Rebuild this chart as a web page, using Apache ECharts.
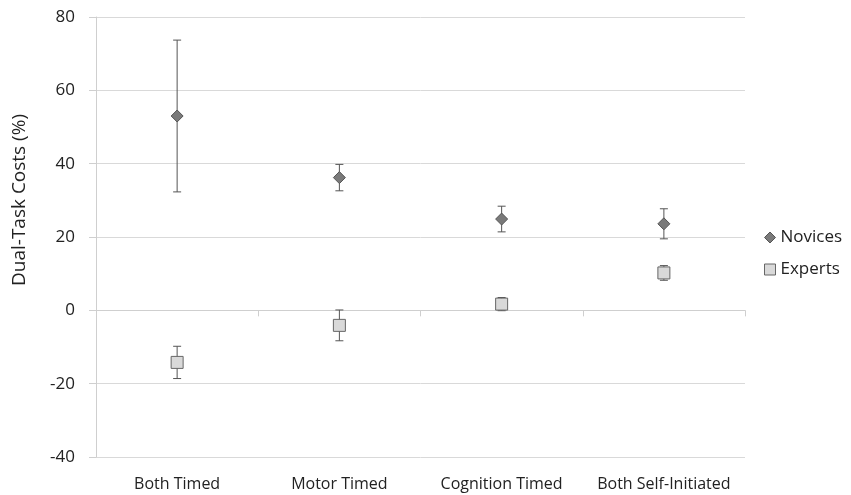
<!DOCTYPE html>
<html>
<head>
<meta charset="utf-8">
<script src="https://cdn.jsdelivr.net/npm/echarts@6/dist/echarts.min.js"></script>
<style>html,body{margin:0;padding:0;background:#fff;}#c{width:851px;height:495px;}</style>
</head>
<body>
<div id="c"></div>
<script>
var categories = ['Both Timed', 'Motor Timed', 'Cognition Timed', 'Both Self-Initiated'];
var novicesMean = [53.0, 36.2, 24.9, 23.6];
var novicesErr = [20.7, 3.6, 3.5, 4.1];
var expertsMean = [-14.2, -4.1, 1.7, 10.2];
var expertsErr = [4.4, 4.2, 1.8, 2.0];
var yTicks = [-40, -20, 0, 20, 40, 60, 80];

var FONT = '"Open Sans", sans-serif';
var chart = echarts.init(document.getElementById('c'));

function errData(mean, err) {
  return mean.map(function (m, i) { return [i, m - err[i], m + err[i]]; });
}
function errRender(params, api) {
  var x = api.value(0);
  var lo = api.coord([x, api.value(1)]);
  var hi = api.coord([x, api.value(2)]);
  var hw = 4;
  var st = { stroke: '#555', lineWidth: 1 };
  return {
    type: 'group',
    children: [
      { type: 'line', shape: { x1: lo[0], y1: lo[1], x2: hi[0], y2: hi[1] }, style: st },
      { type: 'line', shape: { x1: lo[0] - hw, y1: lo[1], x2: lo[0] + hw, y2: lo[1] }, style: st },
      { type: 'line', shape: { x1: hi[0] - hw, y1: hi[1], x2: hi[0] + hw, y2: hi[1] }, style: st }
    ]
  };
}

chart.setOption({
  animation: false,
  textStyle: { fontFamily: FONT },
  grid: { left: 96, right: 106, top: 17, bottom: 38 },
  legend: {
    orient: 'vertical',
    left: 764,
    top: 229,
    itemGap: 15,
    itemWidth: 11,
    itemHeight: 11,
    padding: 0,
    textStyle: { fontFamily: FONT, fontSize: 17, color: '#222' },
    data: [
      { name: 'Novices', icon: 'diamond', itemStyle: { color: '#7a7a7a', borderColor: '#555', borderWidth: 1 } },
      { name: 'Experts', icon: 'rect', itemStyle: { color: '#d9d9d9', borderColor: '#666', borderWidth: 1 } }
    ]
  },
  graphic: [{
    type: 'text',
    x: 20,
    y: 200,
    rotation: Math.PI / 2,
    style: {
      text: 'Dual-Task Costs (%)',
      font: '19px "Open Sans", sans-serif',
      fill: '#222',
      textAlign: 'center',
      textVerticalAlign: 'middle'
    }
  }],
  xAxis: [
    {
      type: 'category',
      data: categories,
      position: 'bottom',
      axisLine: { show: true, onZero: true, lineStyle: { color: '#cfcfcf', width: 1 } },
      axisTick: { show: true, length: 6, lineStyle: { color: '#cfcfcf' } },
      axisLabel: { show: false }
    },
    {
      type: 'category',
      data: categories,
      position: 'bottom',
      axisLine: { show: false, onZero: false },
      axisTick: { show: false },
      axisLabel: { fontFamily: FONT, fontSize: 16, color: '#222', margin: 19, interval: 0 }
    }
  ],
  yAxis: {
    type: 'value',
    min: -40,
    max: 80,
    interval: 20,
    axisLine: { show: true, lineStyle: { color: '#cfcfcf' } },
    axisTick: { show: true, length: 7, lineStyle: { color: '#cfcfcf' } },
    splitLine: { show: true, lineStyle: { color: '#d9d9d9' } },
    axisLabel: {
      fontFamily: FONT, fontSize: 17, color: '#222', margin: 21,
      formatter: function (v) { return yTicks.indexOf(v) >= 0 ? String(v) : ''; }
    }
  },
  series: [
    {
      type: 'custom',
      name: 'novErr',
      renderItem: errRender,
      data: errData(novicesMean, novicesErr),
      encode: { x: 0, y: [1, 2] },
      z: 1
    },
    {
      type: 'custom',
      name: 'expErr',
      renderItem: errRender,
      data: errData(expertsMean, expertsErr),
      encode: { x: 0, y: [1, 2] },
      z: 1
    },
    {
      type: 'scatter',
      name: 'Novices',
      symbol: 'diamond',
      symbolSize: [12, 12],
      data: novicesMean,
      itemStyle: { color: '#7a7a7a', borderColor: '#555', borderWidth: 1, opacity: 1 },
      z: 3
    },
    {
      type: 'scatter',
      name: 'Experts',
      symbol: 'rect',
      symbolSize: 12,
      data: expertsMean,
      itemStyle: { color: '#d9d9d9', borderColor: '#666', borderWidth: 1, opacity: 1 },
      z: 3
    }
  ]
});
</script>
</body>
</html>
